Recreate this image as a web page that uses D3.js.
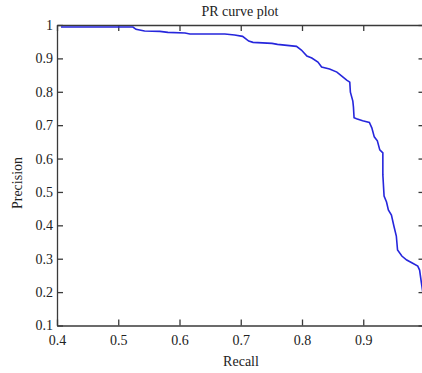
<!DOCTYPE html>
<html>
<head>
<meta charset="utf-8">
<script src="https://cdn.jsdelivr.net/npm/d3@7/dist/d3.min.js"></script>
<style>
  body { margin: 0; background: #fff; }
  svg { display: block; font-family: "Liberation Serif", "DejaVu Serif", serif; }
  .axis path, .axis line { stroke: #3a3a3a; stroke-width: 1.3px; }
  .axis text { font-size: 14px; fill: #222; font-family: "Liberation Serif", serif; }
</style>
</head>
<body>
<div id="chart"></div>
<script>
// recall / precision
const recall = [
  0.4065, 0.524, 0.529, 0.543, 0.568, 0.581, 0.609, 0.617, 0.674, 0.690,
  0.703, 0.713, 0.720, 0.751, 0.760, 0.791, 0.799, 0.808, 0.816, 0.826,
  0.832, 0.845, 0.857, 0.865, 0.873, 0.878, 0.879, 0.883, 0.884, 0.885,
  0.889, 0.899, 0.910, 0.914, 0.918, 0.923, 0.927, 0.932, 0.932, 0.934,
  0.938, 0.941, 0.946, 0.950, 0.954, 0.956, 0.963, 0.971, 0.980, 0.989,
  0.992, 0.995, 0.998
];
const precision = [
  0.994, 0.994, 0.987, 0.982, 0.981, 0.978, 0.976, 0.973, 0.973, 0.970,
  0.966, 0.952, 0.948, 0.945, 0.942, 0.936, 0.925, 0.907, 0.901, 0.889,
  0.874, 0.868, 0.859, 0.847, 0.835, 0.829, 0.799, 0.772, 0.754, 0.722,
  0.719, 0.713, 0.708, 0.692, 0.665, 0.653, 0.626, 0.617, 0.551, 0.488,
  0.470, 0.446, 0.431, 0.398, 0.368, 0.326, 0.308, 0.296, 0.287, 0.278,
  0.266, 0.227, 0.19
];
const xTicks = [0.4, 0.5, 0.6, 0.7, 0.8, 0.9, 1.0];
const xLabels = [`0.4`, `0.5`, `0.6`, `0.7`, `0.8`, `0.9`, ``];
const yTicks = [0.1, 0.2, 0.3, 0.4, 0.5, 0.6, 0.7, 0.8, 0.9, 1];

const width = 422, height = 373;
const margin = { top: 25, left: 57 };
const plotW = 367.5, plotH = 300.5;

const svg = d3.select(`#chart`).append(`svg`)
    .attr(`width`, width)
    .attr(`height`, height);

const x = d3.scaleLinear().domain([0.4, 1]).range([margin.left, margin.left + plotW]);
const y = d3.scaleLinear().domain([0.1, 1]).range([margin.top + plotH, margin.top]);

svg.append(`g`).attr(`class`, `axis`)
    .attr(`transform`, `translate(0,${margin.top + plotH})`)
    .call(d3.axisBottom(x).tickValues(xTicks).tickSize(-6).tickSizeOuter(0).tickPadding(10)
      .tickFormat((d, i) => xLabels[i]));

svg.append(`g`).attr(`class`, `axis`)
    .attr(`transform`, `translate(0,${margin.top})`)
    .call(d3.axisTop(x).tickValues(xTicks).tickSize(-6).tickSizeOuter(0).tickFormat(``));

svg.append(`g`).attr(`class`, `axis`)
    .attr(`transform`, `translate(${margin.left},0)`)
    .call(d3.axisLeft(y).tickValues(yTicks).tickSize(-6).tickSizeOuter(0).tickPadding(4)
      .tickFormat(d3.format(`~g`)));

svg.append(`g`).attr(`class`, `axis`)
    .attr(`transform`, `translate(${margin.left + plotW},0)`)
    .call(d3.axisRight(y).tickValues(yTicks).tickSize(-6).tickSizeOuter(0).tickFormat(``));

const line = d3.line()
    .x((d, i) => x(recall[i]))
    .y((d) => y(d));

svg.append(`path`)
    .datum(precision)
    .attr(`d`, line)
    .attr(`fill`, `none`)
    .attr(`stroke`, `#2626dc`)
    .attr(`stroke-width`, 1.6);

svg.append(`text`)
    .attr(`x`, 240).attr(`y`, 16)
    .attr(`text-anchor`, `middle`)
    .attr(`font-size`, 14).attr(`fill`, `#222`)
    .text(`PR curve plot`);

svg.append(`text`)
    .attr(`x`, 241).attr(`y`, 366)
    .attr(`text-anchor`, `middle`)
    .attr(`font-size`, 14).attr(`fill`, `#222`)
    .text(`Recall`);

svg.append(`text`)
    .attr(`transform`, `translate(22,183) rotate(-90)`)
    .attr(`text-anchor`, `middle`)
    .attr(`font-size`, 14).attr(`fill`, `#222`)
    .text(`Precision`);
</script>
</body>
</html>
